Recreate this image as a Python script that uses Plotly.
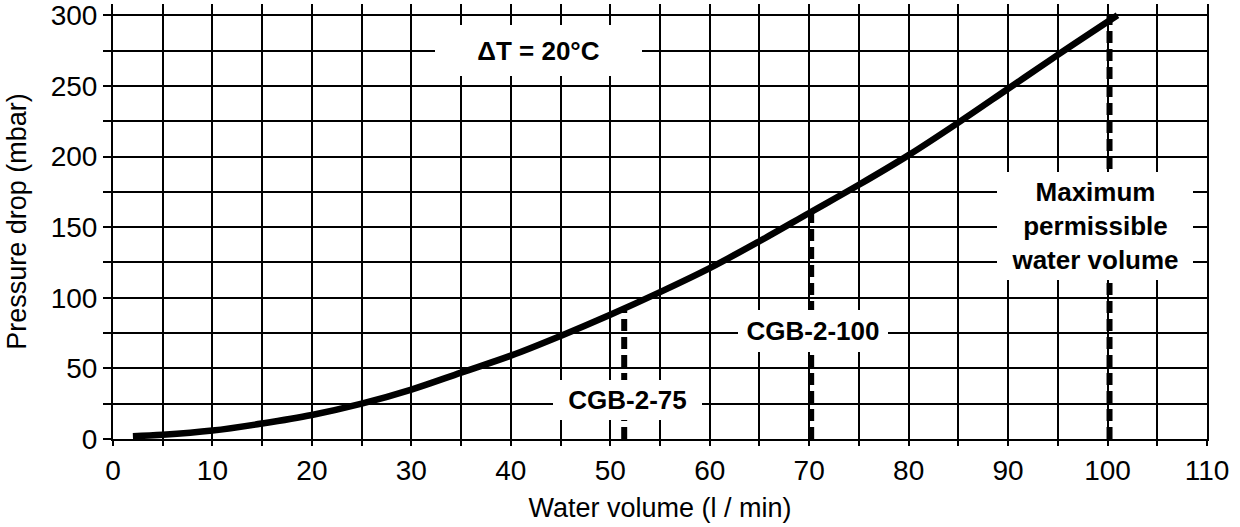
import plotly.graph_objects as go

# Curve: pressure drop vs water volume
water_volume = [2, 5, 10, 15, 20, 25, 30, 35, 40, 45, 50, 55, 60, 65, 70, 75, 80, 85, 90, 95, 101]
pressure_drop = [2, 3, 6, 11, 17, 25, 35, 47, 59, 73, 88, 104, 121, 140, 160, 180, 201, 224, 248, 272, 300]

# Marker lines (boiler models / limit)
marker_names = ["CGB-2-75", "CGB-2-100", "Maximum permissible water volume"]
marker_x = [51.4, 70.2, 100.2]
marker_top = [91, 161, 300]

x_ticks = list(range(0, 115, 5))
x_labels = [str(v) if v % 10 == 0 else "" for v in x_ticks]
y_ticks = list(range(0, 325, 25))
y_labels = [str(v) if v % 50 == 0 else "" for v in y_ticks]

FONT = "Liberation Sans, Arial, sans-serif"

fig = go.Figure()

fig.add_trace(go.Scatter(
    x=water_volume, y=pressure_drop, mode="lines",
    line=dict(color="black", width=6.5, shape="spline", smoothing=1.0),
    showlegend=False, hoverinfo="skip",
))

for name, mx, mt in zip(marker_names, marker_x, marker_top):
    fig.add_trace(go.Scatter(
        x=[mx, mx], y=[0, mt], mode="lines",
        line=dict(color="black", width=6, dash="12px,6px"),
        showlegend=False, hoverinfo="skip", name=name,
    ))

labels = [
    dict(text="<b>ΔT = 20°C</b>", x=42.8, y=275, w=207, h=51),
    dict(text="<b>CGB-2-75</b>", x=51.7, y=27.4, w=149, h=40),
    dict(text="<b>CGB-2-100</b>", x=70.4, y=76.3, w=150, h=42),
    dict(text="<b>Maximum<br>permissible<br>water volume</b>", x=98.7, y=151, w=196, h=108),
]
for a in labels:
    fig.add_annotation(
        x=a["x"], y=a["y"], xref="x", yref="y", text=a["text"], showarrow=False,
        width=a["w"], height=a["h"], bgcolor="white", borderpad=0, borderwidth=0,
        font=dict(family=FONT, size=26, color="black"), align="center", valign="middle",
    )

fig.update_layout(
    width=1240, height=527,
    margin=dict(l=113, r=33, t=4, b=88, autoexpand=False),
    paper_bgcolor="white", plot_bgcolor="white",
    font=dict(family=FONT, size=26, color="black"),
    showlegend=False,
)

fig.update_xaxes(
    range=[0, 110], tickmode="array", tickvals=x_ticks, ticktext=x_labels,
    showgrid=True, gridcolor="black", gridwidth=2, automargin=False,
    zeroline=False, showline=True, linecolor="black", linewidth=2, mirror=False,
    ticks="outside", ticklen=5, tickwidth=2, tickcolor="black",
    tickfont=dict(family=FONT, size=28, color="black"),
    title=dict(text="Water volume (l / min)", font=dict(family=FONT, size=27, color="black"), standoff=14),
)
fig.update_yaxes(
    range=[0, 308], tickmode="array", tickvals=y_ticks, ticktext=y_labels,
    showgrid=True, gridcolor="black", gridwidth=2, automargin=False,
    zeroline=False, showline=True, linecolor="black", linewidth=2, mirror=True,
    ticks="outside", ticklen=8, tickwidth=2, tickcolor="black",
    tickfont=dict(family=FONT, size=28, color="black"),
    title=dict(text="Pressure drop (mbar)", font=dict(family=FONT, size=27, color="black"), standoff=16),
)

fig.write_html(
    "out.html",
    config={"displayModeBar": False},
    post_script="document.body.style.margin='0';document.body.style.overflow='hidden';",
)
